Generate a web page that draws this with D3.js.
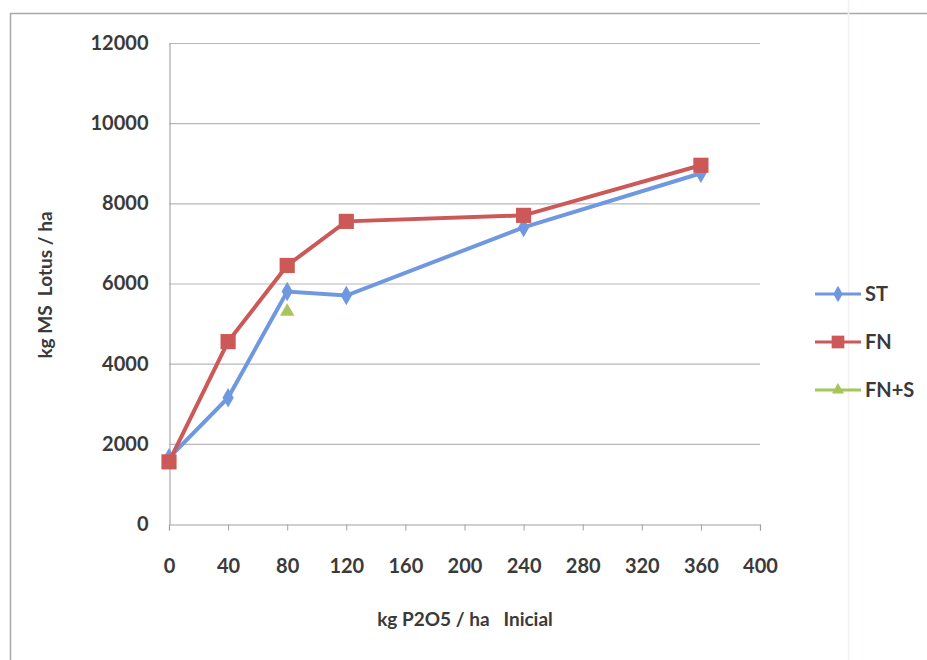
<!DOCTYPE html>
<html lang="es">
<head>
<meta charset="UTF-8">
<title>kg MS Lotus / ha</title>
<script src="https://d3js.org/d3.v7.min.js"></script>
<style>
    body { margin: 0; background: #fff; }
    text { font-family: Lato, "Open Sans", sans-serif; font-weight: bold; fill: #3a3a3a; }
</style>
</head>
<body>
<div id="chart"></div>
<script>
    // data
    const doses = [0, 40, 80, 120, 240, 360];
    const stValues = [1650, 3150, 5800, 5700, 7400, 8750];
    const fnValues = [1550, 4550, 6450, 7550, 7700, 8950];
    const fnsDoses = [80];
    const fnsValues = [5300];
    const xTicks = [0, 40, 80, 120, 160, 200, 240, 280, 320, 360, 400];
    const yTicks = [0, 2000, 4000, 6000, 8000, 10000, 12000];
    const seriesNames = ["ST", "FN", "FN+S"];
    const seriesColors = ["#6f98e0", "#cc5858", "#a8c45c"];

    const width = 927, height = 660;
    const svg = d3.select("#chart").append("svg")
        .attr("width", width).attr("height", height);

    // outer chart frame (only top and left edges show in the scan)
    svg.append("path")
        .attr("d", "M10.5,660 V13.5 H927")
        .attr("fill", "none").attr("stroke", "#a8a8a8").attr("stroke-width", 1.5);
    svg.append("line")
        .attr("x1", 848.5).attr("x2", 848.5).attr("y1", 0).attr("y2", height)
        .attr("stroke", "#f6eef0").attr("stroke-width", 1.5);

    const x = d3.scaleLinear().domain([0, 400]).range([169, 760]);
    const y = d3.scaleLinear().domain([0, 12000]).range([524, 43]);

    // horizontal gridlines
    svg.append("g").selectAll("line")
        .data(yTicks.filter(d => d > 0))
        .join("line")
        .attr("x1", x(0)).attr("x2", x(400))
        .attr("y1", d => y(d) + 0.5).attr("y2", d => y(d) + 0.5)
        .attr("stroke", "#b8b8b8").attr("stroke-width", 1.2);

    // x axis
    const xAxis = svg.append("g")
        .attr("transform", `translate(0,${y(0) + 0.5})`)
        .call(d3.axisBottom(x).tickValues(xTicks).tickSize(6).tickPadding(28).tickFormat(d3.format("d")));
    xAxis.select(".domain").attr("stroke", "#a0a0a0").attr("stroke-width", 1.2);
    xAxis.selectAll(".tick line").attr("stroke", "#a0a0a0");
    xAxis.selectAll("text").attr("font-size", 20).attr("fill", "#3a3a3a")
        .attr("font-family", "Lato, sans-serif").attr("font-weight", "bold");

    // y axis
    const yAxis = svg.append("g")
        .attr("transform", `translate(${x(0) + 0.5},0)`)
        .call(d3.axisLeft(y).tickValues(yTicks).tickSize(0).tickPadding(21).tickFormat(d3.format("d")));
    yAxis.select(".domain").attr("stroke", "#a8a8a8").attr("stroke-width", 1.2);
    yAxis.selectAll("text").attr("font-size", 20).attr("fill", "#3a3a3a")
        .attr("font-family", "Lato, sans-serif").attr("font-weight", "bold");

    // axis titles
    svg.append("text")
        .attr("x", 465).attr("y", 626)
        .attr("text-anchor", "middle").attr("font-size", 19)
        .attr("xml:space", "preserve")
        .text("kg P2O5 / ha   Inicial");
    svg.append("text")
        .attr("transform", "translate(52,285) rotate(-90)")
        .attr("text-anchor", "middle").attr("font-size", 19)
        .attr("xml:space", "preserve")
        .text("kg MS  Lotus / ha");

    const line = d3.line().x(d => x(d[0])).y(d => y(d[1]));
    const series = [
        { name: seriesNames[0], color: seriesColors[0], shape: d3.symbolDiamond, size: 110, pts: d3.zip(doses, stValues) },
        { name: seriesNames[1], color: seriesColors[1], shape: d3.symbolSquare, size: 230, pts: d3.zip(doses, fnValues) },
        { name: seriesNames[2], color: seriesColors[2], shape: d3.symbolTriangle, size: 90, pts: d3.zip(fnsDoses, fnsValues) }
    ];

    series.forEach(s => {
        svg.append("path")
            .datum(s.pts)
            .attr("d", line)
            .attr("fill", "none")
            .attr("stroke", s.color)
            .attr("stroke-width", 4);
        svg.append("g").selectAll("path")
            .data(s.pts)
            .join("path")
            .attr("d", d3.symbol().type(s.shape).size(s.size))
            .attr("transform", d => `translate(${x(d[0])},${y(d[1])})`)
            .attr("fill", s.color);
    });

    // legend
    const legend = svg.append("g").attr("transform", "translate(815,0)");
    series.forEach((s, i) => {
        const ly = 294 + i * 48;
        legend.append("line")
            .attr("x1", 0).attr("x2", 46).attr("y1", ly).attr("y2", ly)
            .attr("stroke", s.color).attr("stroke-width", 3);
        legend.append("path")
            .attr("d", d3.symbol().type(s.shape).size(s.size * 0.7))
            .attr("transform", `translate(23,${ly})`)
            .attr("fill", s.color);
        legend.append("text")
            .attr("x", 50).attr("y", ly + 7)
            .attr("font-size", 20)
            .text(s.name);
    });
</script>
</body>
</html>
